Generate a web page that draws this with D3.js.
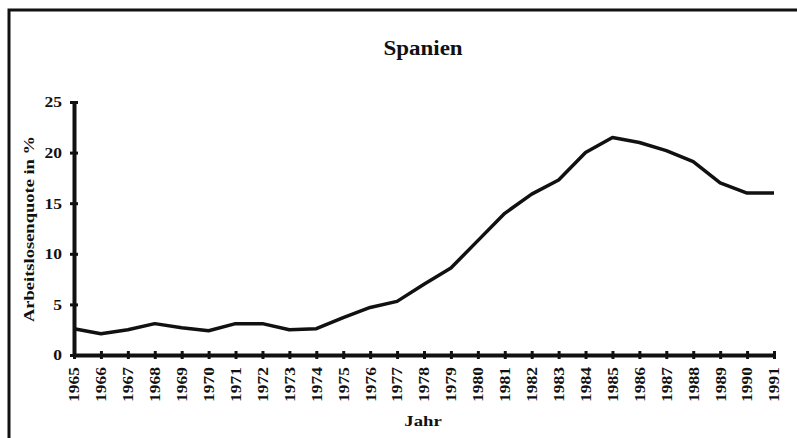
<!DOCTYPE html>
<html>
<head>
<meta charset="utf-8">
<script src="https://cdn.jsdelivr.net/npm/d3@7"></script>
<style>
  body { margin: 0; background: #fff; }
  text { font-family: "Liberation Serif", "Times New Roman", serif; font-weight: bold; fill: #111; }
</style>
</head>
<body>
<script>
// data: Arbeitslosenquote Spanien
var years = [1965, 1966, 1967, 1968, 1969, 1970, 1971, 1972, 1973, 1974, 1975, 1976, 1977,
             1978, 1979, 1980, 1981, 1982, 1983, 1984, 1985, 1986, 1987, 1988, 1989, 1990, 1991];
var quote = [2.6, 2.1, 2.5, 3.1, 2.7, 2.4, 3.1, 3.1, 2.5, 2.6, 3.7, 4.7, 5.3,
             7.0, 8.6, 11.3, 14.0, 15.9, 17.3, 20.0, 21.5, 21.0, 20.2, 19.1, 17.0, 16.0, 16.0];
var yTicks = [0, 5, 10, 15, 20, 25];

var width = 797, height = 438;
var stretch = 1.25; // the original type is wide and squat

var svg = d3.select("body").append("svg")
    .attr("width", width)
    .attr("height", height);

// frame
svg.append("path")
    .attr("d", "M9,438 L9,10 L797,10")
    .style("fill", "none")
    .style("stroke", "#111")
    .style("stroke-width", 3);

var x = d3.scalePoint()
    .domain(years)
    .range([74, 774]);

var y = d3.scaleLinear()
    .domain([0, 25])
    .range([355, 102]);

// title
svg.append("text")
    .attr("transform", "translate(423,55) scale(1.15,1)")
    .attr("text-anchor", "middle")
    .style("font-size", "20px")
    .text("Spanien");

// y axis
var yAxis = svg.append("g")
    .attr("transform", "translate(74,0)")
    .call(d3.axisLeft(y).tickValues(yTicks).tickSize(0).tickPadding(0));
yAxis.select(".domain").style("stroke", "#111").style("stroke-width", 4);
yAxis.selectAll("text")
    .style("font-size", "14px")
    .attr("x", -12 / stretch)
    .attr("dy", "0.35em")
    .attr("transform", "scale(" + stretch + ",1)");
yAxis.selectAll(".tick").append("line")
    .attr("x1", -4).attr("x2", 4)
    .style("stroke", "#111").style("stroke-width", 3);

// x axis
var xAxis = svg.append("g")
    .attr("transform", "translate(0,355)")
    .call(d3.axisBottom(x).tickSize(0).tickPadding(0));
xAxis.select(".domain").style("stroke", "#111").style("stroke-width", 4);
xAxis.selectAll(".tick").append("line")
    .attr("y1", -4).attr("y2", 4)
    .style("stroke", "#111").style("stroke-width", 3);
xAxis.selectAll("text")
    .style("font-size", "14px")
    .attr("transform", "rotate(-90) scale(" + stretch + ",1)")
    .attr("x", -12 / stretch)
    .attr("y", 0)
    .attr("dy", "0.35em")
    .attr("text-anchor", "end");

// axis titles
svg.append("text")
    .attr("transform", "translate(34,229) rotate(-90) scale(" + stretch + ",1)")
    .attr("text-anchor", "middle")
    .style("font-size", "14.8px")
    .text("Arbeitslosenquote in %");

svg.append("text")
    .attr("transform", "translate(423,426) scale(" + stretch + ",1)")
    .attr("text-anchor", "middle")
    .style("font-size", "15px")
    .text("Jahr");

// line
var line = d3.line()
    .x(function(d, i) { return x(years[i]); })
    .y(function(d) { return y(d); });

svg.append("path")
    .datum(quote)
    .attr("d", line)
    .style("fill", "none")
    .style("stroke", "#111")
    .style("stroke-width", 3.5)
    .style("stroke-linejoin", "round");
</script>
</body>
</html>
